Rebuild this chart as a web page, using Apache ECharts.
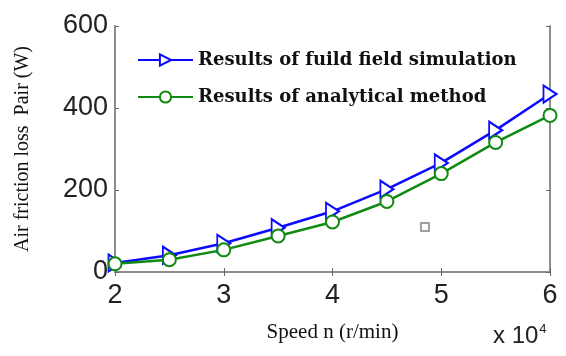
<!DOCTYPE html>
<html>
<head>
<meta charset="utf-8">
<script src="https://cdn.jsdelivr.net/npm/echarts@6/dist/echarts.min.js"></script>
<style>
    html, body { margin: 0; padding: 0; background: #fff; }
    #chart { width: 566px; height: 356px; }
</style>
</head>
<body>
<div id="chart"></div>
<script>
    // speed in units of 10^4 r/min
    var speed = [2, 2.5, 3, 3.5, 4, 4.5, 5, 5.5, 6];
    var fluidSim = [22, 41, 70, 108, 148, 202, 266, 346, 434];
    var analytical = [20, 30, 54, 88, 122, 172, 240, 316, 382];
    var strayMark = [[4.85, 110]];
    var xTicks = [2, 3, 4, 5, 6];
    var yTicks = [0, 200, 400, 600];
    var seriesNames = ['Results of fuild field simulation', 'Results of analytical method'];

    function pairs(xs, ys) {
        return xs.map(function (x, i) { return [x, ys[i]]; });
    }

    var axisGray = '#8c8c8c';
    var tickFont = { color: '#222', fontFamily: 'Liberation Sans, Arial', fontSize: 27 };

    var chart = echarts.init(document.getElementById('chart'));
    chart.setOption({
        animation: false,
        grid: { left: 115, right: 16, top: 26, bottom: 84 },
        legend: {
            data: seriesNames,
            orient: 'vertical',
            left: 137,
            top: 51,
            padding: 0,
            itemWidth: 55,
            itemHeight: 14,
            itemGap: 19,
            textStyle: {
                color: '#111',
                fontFamily: 'DejaVu Serif',
                fontWeight: 'bold',
                fontSize: 18,
                lineHeight: 18
            }
        },
        xAxis: [{
            type: 'value',
            min: xTicks[0],
            max: xTicks[xTicks.length - 1],
            interval: 1,
            name: 'Speed n (r/min)',
            nameLocation: 'middle',
            nameGap: 50,
            nameTextStyle: { color: '#111', fontFamily: 'Liberation Serif', fontSize: 21 },
            axisLine: { lineStyle: { color: axisGray, width: 2 } },
            axisTick: { inside: true, length: 4, lineStyle: { color: '#666' } },
            axisLabel: Object.assign({ margin: 10 }, tickFont),
            splitLine: { show: false }
        }, {
            type: 'value',
            position: 'top',
            min: xTicks[0],
            max: xTicks[xTicks.length - 1],
            interval: 1,
            axisLine: { show: true, lineStyle: { color: axisGray, width: 2 } },
            axisTick: { inside: true, length: 4, lineStyle: { color: '#666' } },
            axisLabel: { show: false },
            splitLine: { show: false }
        }],
        yAxis: [{
            type: 'value',
            min: yTicks[0],
            max: yTicks[yTicks.length - 1],
            interval: 200,
            name: 'Air friction loss  Pair (W)',
            nameLocation: 'middle',
            nameGap: 82,
            nameTextStyle: { color: '#111', fontFamily: 'Liberation Serif', fontSize: 20 },
            axisLine: { show: true, lineStyle: { color: axisGray, width: 2 } },
            axisTick: { show: true, inside: true, length: 4, lineStyle: { color: '#666' } },
            axisLabel: Object.assign({ margin: 7 }, tickFont),
            splitLine: { show: false }
        }, {
            type: 'value',
            position: 'right',
            min: yTicks[0],
            max: yTicks[yTicks.length - 1],
            interval: 200,
            axisLine: { show: true, lineStyle: { color: axisGray, width: 2 } },
            axisTick: { show: true, inside: true, length: 4, lineStyle: { color: '#666' } },
            axisLabel: { show: false },
            splitLine: { show: false }
        }],
        series: [{
            name: seriesNames[0],
            type: 'line',
            data: pairs(speed, fluidSim),
            symbol: 'emptyTriangle',
            symbolRotate: -90,
            symbolSize: [17, 13],
            lineStyle: { color: '#0a0aff', width: 2.5 },
            itemStyle: { color: '#0a0aff', borderWidth: 2 },
            z: 3
        }, {
            name: seriesNames[1],
            type: 'line',
            data: pairs(speed, analytical),
            symbol: 'emptyCircle',
            symbolSize: 13,
            lineStyle: { color: '#108a10', width: 2.5 },
            itemStyle: { color: '#108a10', borderWidth: 2 },
            z: 4
        }, {
            name: 'stray',
            type: 'scatter',
            data: strayMark,
            symbol: 'emptyRect',
            symbolSize: 8,
            itemStyle: { color: '#888', borderWidth: 2 }
        }],
        graphic: [{
            type: 'text',
            left: 493,
            top: 323,
            style: {
                text: 'x 10{s|4}',
                fill: '#222',
                font: '24px Liberation Sans',
                rich: { s: { fontSize: 13, fontFamily: 'Liberation Sans', fill: '#222', verticalAlign: 'top', padding: [0, 0, 14, 1] } }
            }
        }]
    });
</script>
</body>
</html>
